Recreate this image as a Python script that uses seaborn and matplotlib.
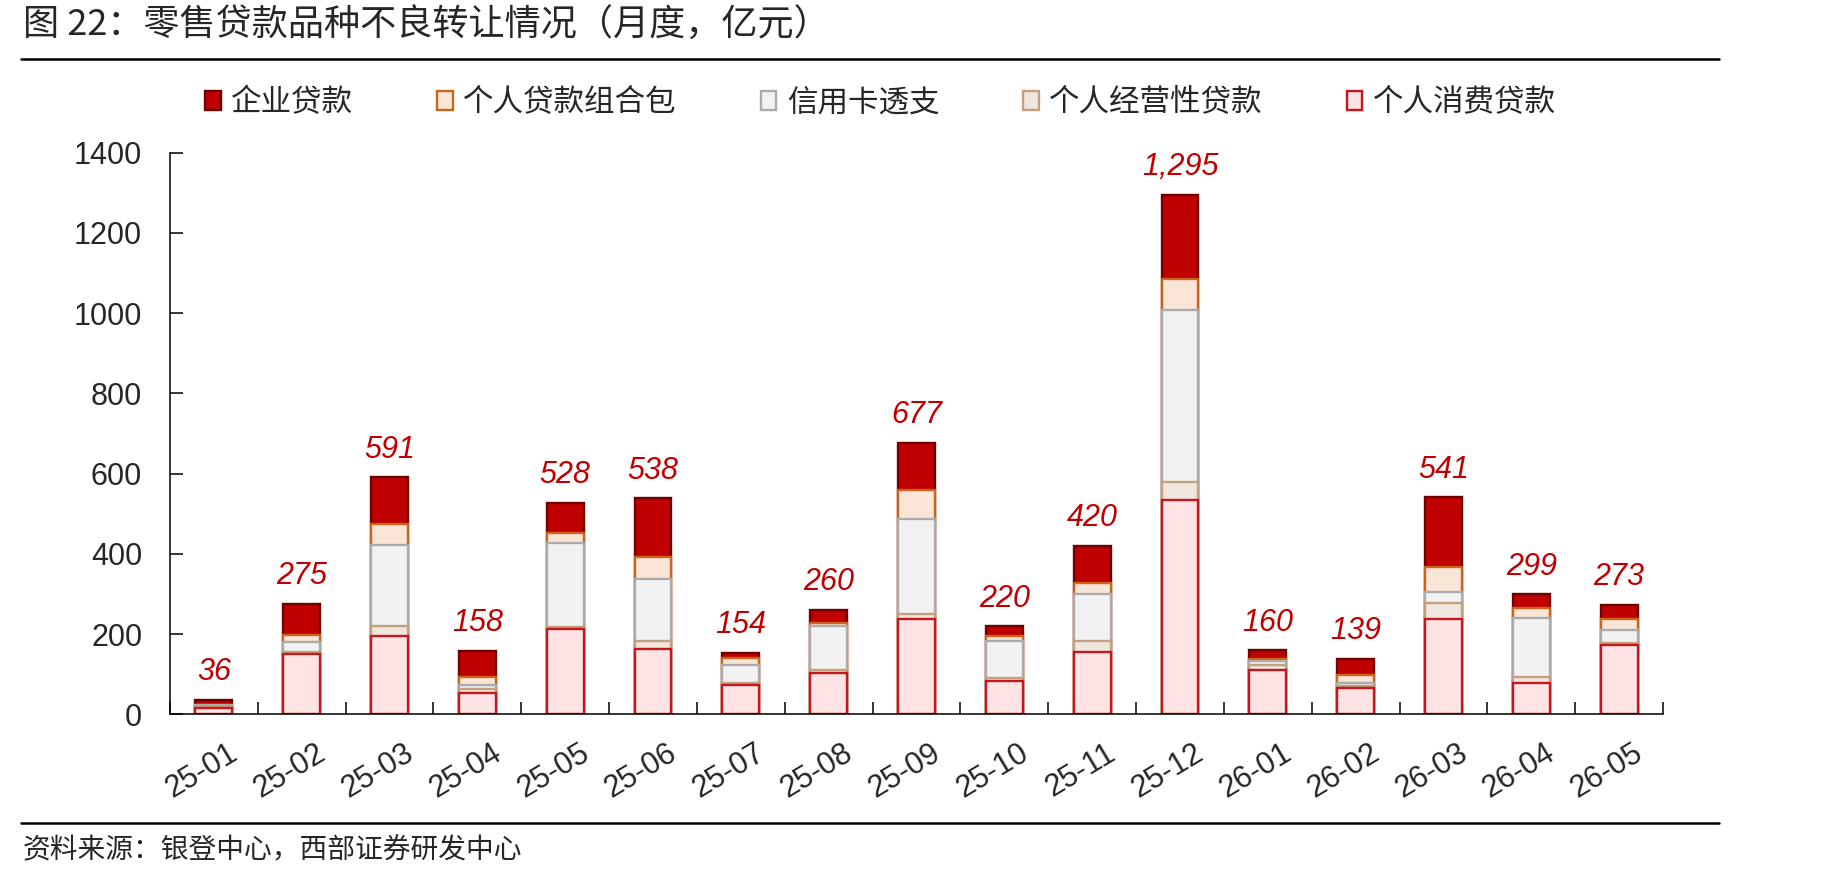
import numpy as np
import pandas as pd
import matplotlib
matplotlib.use('Agg')
import matplotlib.pyplot as plt
import matplotlib.transforms as mtransforms
from matplotlib.patches import Patch
from matplotlib.lines import Line2D
import seaborn as sns

# monthly non-performing retail loan transfers, 亿元
months = ['25-01', '25-02', '25-03', '25-04', '25-05', '25-06', '25-07', '25-08', '25-09',
          '25-10', '25-11', '25-12', '26-01', '26-02', '26-03', '26-04', '26-05']
consumer = [15, 150, 195, 54, 212, 163, 73, 104, 238, 83, 156, 534, 110, 66, 237, 77, 173]
business = [6, 5, 25, 8, 5, 20, 4, 7, 13, 8, 27, 45, 14, 4, 40, 15, 4]
card = [2, 24, 202, 11, 211, 155, 47, 108, 235, 91, 118, 428, 9, 7, 29, 149, 32]
package = [1, 19, 52, 21, 23, 55, 17, 8, 74, 12, 27, 78, 5, 21, 60, 25, 28]
corporate = [12, 77, 117, 64, 77, 145, 13, 33, 117, 26, 92, 210, 22, 41, 175, 33, 36]

# bottom -> top stacking order
series_names = ['个人消费贷款', '个人经营性贷款', '信用卡透支', '个人贷款组合包', '企业贷款']
legend_order = ['企业贷款', '个人贷款组合包', '信用卡透支', '个人经营性贷款', '个人消费贷款']

face = {'企业贷款': '#C00000', '个人贷款组合包': '#FBE5D6', '信用卡透支': '#F2F2F2',
        '个人经营性贷款': '#EFE6DD', '个人消费贷款': '#FFE3E5'}
edge = {'企业贷款': '#6E0000', '个人贷款组合包': '#C8641E', '信用卡透支': '#ABABAB',
        '个人经营性贷款': '#C2A080', '个人消费贷款': '#C8161D'}

sns.set_theme(style='white')
plt.rcParams['font.family'] = ['Liberation Sans', 'Noto Sans CJK SC', 'DejaVu Sans']
plt.rcParams['axes.unicode_minus'] = False

df = pd.DataFrame({'month': months, '个人消费贷款': consumer, '个人经营性贷款': business,
                   '信用卡透支': card, '个人贷款组合包': package, '企业贷款': corporate})
stack = df[series_names].cumsum(axis=1)
stack['month'] = months

fig = plt.figure(figsize=(18.36, 8.85), dpi=100)
ax = fig.add_axes([0.0926, 0.1929, 0.8132, 0.6345])

# draw cumulative totals from the top segment down so each layer covers the next
for name in reversed(series_names):
    sns.barplot(data=stack, x='month', y=name, order=months, color=face[name],
                edgecolor=edge[name], linewidth=1.7, width=0.42, saturation=1,
                errorbar=None, ax=ax)

totals = stack['企业贷款'].values
for i, v in enumerate(totals):
    ax.annotate(f'{int(v):,}', (i, v), xytext=(0, 9), textcoords='offset points',
                ha='center', va='bottom', color='#C00000', fontsize=22, style='italic')

ax.set_ylim(0, 1400)
ax.set_yticks(range(0, 1401, 200))
ax.set_xlim(-0.5, 16.5)
ax.set_xlabel('')
ax.set_ylabel('')
ax.set_xticks(range(len(months)))
ax.set_xticklabels(months, rotation=31, ha='right', va='top', rotation_mode='anchor')
ax.set_xticks(np.arange(-0.5, len(months), 1), minor=True)
ax.tick_params(axis='y', direction='in', length=9, width=1.1, labelsize=22, pad=20,
               left=True, color='black')
ax.tick_params(axis='x', which='major', length=0, labelsize=22, pad=17)
ax.tick_params(axis='x', which='minor', direction='in', length=9, width=1.1,
               bottom=True, color='black')
# nudge rotated month labels right so they end at the bar centre
shift = mtransforms.ScaledTranslation(10 / 72, 0, fig.dpi_scale_trans)
for lab in ax.get_xticklabels():
    lab.set_transform(lab.get_transform() + shift)
for s in ['top', 'right']:
    ax.spines[s].set_visible(False)
for s in ['left', 'bottom']:
    ax.spines[s].set_color('black')
    ax.spines[s].set_linewidth(1.1)

handles = [Patch(facecolor=face[n], edgecolor=edge[n], linewidth=1.7, label=n)
           for n in legend_order]
ax.legend(handles=handles, loc='center', bbox_to_anchor=(0.476, 1.088), ncol=5,
          frameon=False, fontsize=22, handlelength=0.5, handleheight=0.6,
          handletextpad=0.35, columnspacing=2.75)

fig.text(0.0125, 0.971, '图 22：零售贷款品种不良转让情况（月度，亿元）', fontsize=26,
         ha='left', va='center', family=['Noto Sans CJK SC', 'DejaVu Sans'])
fig.add_artist(Line2D([0.0114, 0.9363], [0.9333, 0.9333], lw=1.8, color='black',
                      transform=fig.transFigure))
fig.add_artist(Line2D([0.0114, 0.9363], [0.0701, 0.0701], lw=1.8, color='black',
                      transform=fig.transFigure))
fig.text(0.0125, 0.0395, '资料来源：银登中心，西部证券研发中心', fontsize=20,
         ha='left', va='center', family=['Noto Sans CJK SC', 'DejaVu Sans'])

fig.savefig('out.png', dpi=100)
